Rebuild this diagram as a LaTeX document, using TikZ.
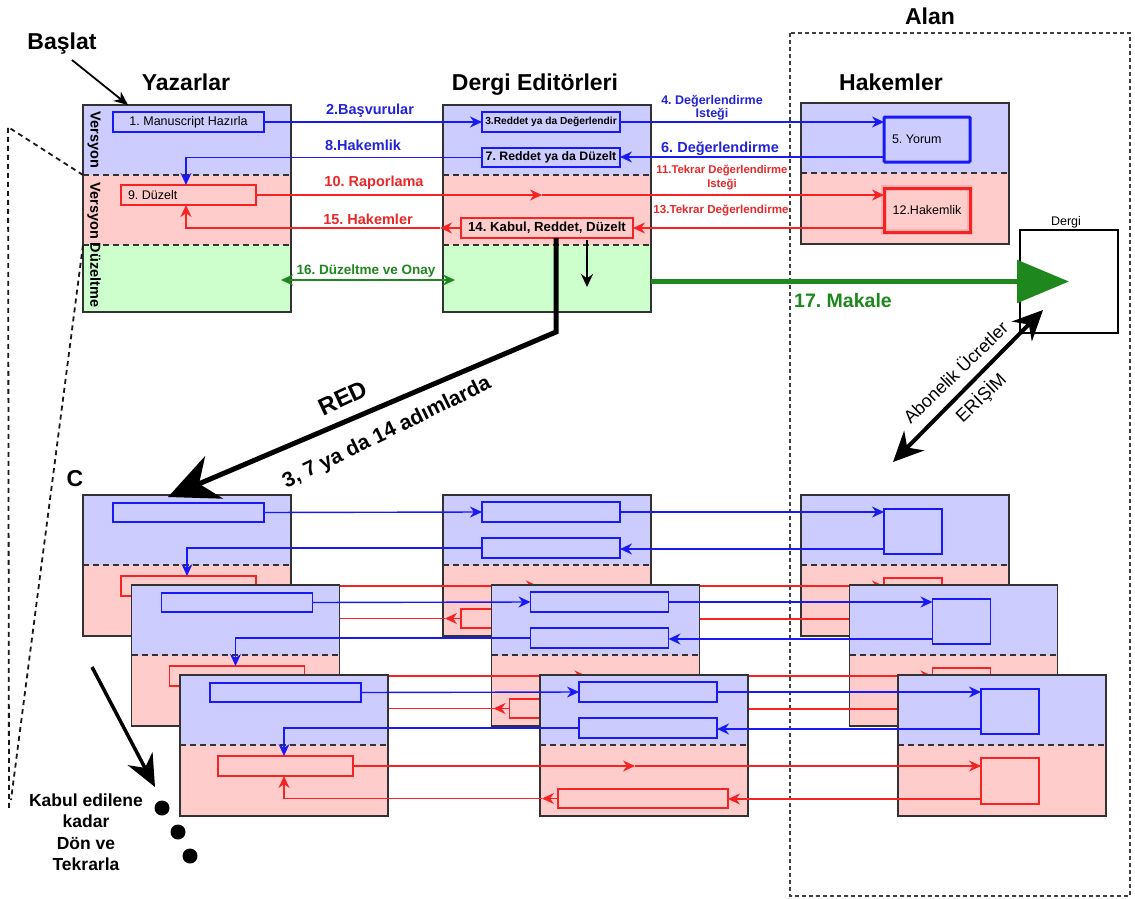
\documentclass[tikz,border=0pt]{standalone}
\usepackage{fontspec}
\setmainfont{Liberation Sans}
\usetikzlibrary{arrows.meta,calc}
\frenchspacing

\definecolor{cBlueFill}{RGB}{204,204,255}
\definecolor{cRedFill}{RGB}{255,204,204}
\definecolor{cGreenFill}{RGB}{204,255,204}
\definecolor{cBlue}{RGB}{25,25,245}
\definecolor{cRed}{RGB}{245,35,35}
\definecolor{cGreen}{RGB}{30,135,30}
\definecolor{cFrame}{RGB}{50,50,50}
\definecolor{cBlueText}{RGB}{35,35,215}
\definecolor{cRedText}{RGB}{235,40,40}

\newcommand{\fsz}[1]{\fontsize{#1}{#1}\selectfont}

% a stage card: blue upper half, red lower half, dashed separator, dark frame
\newcommand{\twocard}[3]{%
  \fill[cBlueFill] (#2,#3) rectangle ++(208,70);
  \fill[cRedFill] (#2,#3+70) rectangle ++(208,71);
  \draw[sepline] (#2,#3+70) -- ++(208,0);
  \node[cardframe, anchor=north west, minimum width=208pt, minimum height=141pt] (#1) at (#2,#3) {};
}

\begin{document}
\begin{tikzpicture}[x=1pt,y=-1pt,
  every node/.style={inner sep=0pt, outer sep=0pt},
  cardframe/.style={draw=cFrame, line width=1.7pt},
  sepline/.style={draw=black!80, line width=1.5pt, dash pattern=on 6pt off 4pt},
  bbox/.style={draw=cBlue, line width=1.7pt, anchor=north west},
  rbox/.style={draw=cRed, line width=1.7pt, anchor=north west},
  bl/.style={draw=cBlue, line width=1.4pt},
  rl/.style={draw=cRed, line width=1.4pt},
  ctip/.style={-{Stealth[length=12pt,width=11pt]}},
  title/.style={anchor=base, font=\bfseries\fsz{23}},
  lblb/.style={anchor=base, text=cBlueText, font=\bfseries\fsz{14.5}},
  lblr/.style={anchor=base, text=cRedText, font=\bfseries\fsz{14.5}},
  pdash/.style={draw=black!90, line width=1.8pt, dash pattern=on 5pt off 4pt},
  alandash/.style={draw=black!75, line width=1.6pt, dash pattern=on 4pt off 3pt},
]
\useasboundingbox (0,0) rectangle (1135,899);
\fill[white] (0,0) rectangle (1135,899);

% field boundary
\draw[alandash] (790,33) rectangle (1130,896);

% ---------- titles ----------
\node[title] (tBaslat) at (62,50) {Başlat};
\node[title] (tYaz) at (186,90) {Yazarlar};
\node[title] (tEd) at (535,91) {Dergi Editörleri};
\node[title] (tHak) at (891,90) {Hakemler};
\node[title] (tAlan) at (930,25) {Alan};
\node[title] (tC) at (75,486) {C};

% ---------- authors card ----------
\fill[cBlueFill] (83,105) rectangle ++(208,70);
\fill[cRedFill] (83,175) rectangle ++(208,70);
\fill[cGreenFill] (83,245) rectangle ++(208,67);
\draw[sepline] (83,175) -- ++(208,0);
\draw[sepline] (83,245) -- ++(208,0);
\node[cardframe, anchor=north west, minimum width=208pt, minimum height=207pt] (yaz) at (83,105) {};
\node[font=\bfseries\fsz{14.5}, rotate=-90] (v1) at (94,140) {Versyon};
\node[font=\bfseries\fsz{14.5}, rotate=-90] (v2) at (94,245) {Versyon Düzeltme};

% ---------- editors card ----------
\fill[cBlueFill] (443,105) rectangle ++(208,70);
\fill[cRedFill] (443,175) rectangle ++(208,70);
\fill[cGreenFill] (443,245) rectangle ++(208,67);
\draw[sepline] (443,175) -- ++(208,0);
\draw[sepline] (443,245) -- ++(208,0);
\node[cardframe, anchor=north west, minimum width=208pt, minimum height=207pt] (ed) at (443,105) {};

% ---------- referees card ----------
\twocard{hak}{801}{103}

% ---------- journal ----------
\node[draw=black, line width=1.5pt, anchor=north west, minimum width=98pt, minimum height=103pt] (dergi) at (1020,230) {};
\node[anchor=base, font=\fsz{12.5}] (tDergi) at (1066,225) {Dergi};

% ---------- inner boxes (top) ----------
\node[bbox, minimum width=151pt, minimum height=20pt, font=\fsz{12.5}] (m1) at (113,112) {1. Manuscript Hazırla};
\node[rbox, minimum width=135pt, minimum height=20pt] (d9) at (121,185) {};
\node[anchor=west, font=\fsz{12.5}] (d9t) at ($(d9.west)+(7,0)$) {9. Düzelt};
\node[bbox, minimum width=138pt, minimum height=20pt, font=\bfseries\fsz{10.2}] (e3) at (482,112) {3.Reddet ya da Değerlendir};
\node[bbox, minimum width=138pt, minimum height=19pt, font=\bfseries\fsz{12.3}] (e7) at (482,148) {7. Reddet ya da Düzelt};
\node[rbox, minimum width=172pt, minimum height=20pt, font=\bfseries\fsz{13.2}] (e14) at (461,218) {14. Kabul, Reddet, Düzelt};
\node[bbox, line width=3pt, rounded corners=1pt, minimum width=86pt, minimum height=45pt] (r5) at (884,117) {};
\node[anchor=west, font=\fsz{12.5}] (r5t) at ($(r5.west)+(8,0)$) {5. Yorum};
\draw[cRed!35, line width=6pt] (884,188) rectangle ++(86,44);
\node[rbox, line width=3pt, minimum width=86pt, minimum height=44pt, font=\fsz{12.5}] (r12) at (884,188) {12.Hakemlik};

% ---------- connectors (top) ----------
\draw[bl, ctip] (m1.east) -- (e3.west);
\draw[bl, ctip] (e3.east) -- (e3.east -| r5.west);
\coordinate (r5o) at ($(r5.south west)+(0,-5)$);
\draw[bl, ctip] (r5o) -- (r5o -| e7.east);
\coordinate (d9in) at ($(d9.north west)+(65,0)$);
\draw[bl, ctip] (e7.west) -| (d9in);

\coordinate (edRmid) at ($(d9.east -| ed.north west)+(99,0)$);
\draw[rl, ctip] (d9.east) -- (edRmid);
\draw[rl, ctip] (edRmid) -- (edRmid -| r12.west);
\coordinate (r12o) at ($(r12.south west)+(0,-4)$);
\draw[rl, ctip] (r12o) -- (r12o -| e14.east);
\coordinate (edRleft) at ($(e14.west -| ed.north west)+(-3,0)$);
\draw[rl, ctip] (e14.west) -- (edRleft);
\coordinate (d9out) at ($(d9.south west)+(65,0)$);
\draw[rl, ctip] (edRleft) -| (d9out);

% correction and approval
\coordinate (g1) at ($(yaz.south east)+(-10,-32)$);
\coordinate (g2) at ($(ed.south west)+(12,-32)$);
\draw[draw=cGreen, line width=1.4pt, {Stealth[length=12pt,width=11pt]}-{Stealth[length=12pt,width=11pt]}] (g1) -- (g2);

% editor downward arrow
\coordinate (edDown1) at ($(e14.south east)+(-46,2)$);
\coordinate (edDown2) at ($(ed.south west)+(144,-25)$);
\draw[line width=1.8pt, -{Stealth[length=13pt,width=12pt]}] (edDown1) -- (edDown2);

% article to journal
\draw[draw=cGreen, line width=5.5pt, -{Triangle[length=52pt,width=42pt]}] (dergi.center -| ed.east) -- (dergi.center);

% subscription / access
\coordinate (acc1) at (893,462);
\coordinate (acc2) at ($(dergi.south west)+(23,-23)$);
\draw[line width=4pt, {Stealth[length=30pt,width=28pt]}-{Stealth[length=30pt,width=28pt]}] (acc1) -- (acc2);

% start arrow
\coordinate (bs1) at ($(tBaslat.base)+(10,10)$);
\coordinate (bs2) at ($(yaz.north west)+(45,0)$);
\draw[line width=1.8pt, -{Stealth[length=14pt,width=12pt]}] (bs1) -- (bs2);

% perspective guide lines
\coordinate (ys1) at ($(yaz.north west)+(0,70)$);
\coordinate (ys2) at ($(yaz.north west)+(0,140)$);
\coordinate (pv1) at (8,127);
\coordinate (pv2) at (9,808);
\coordinate (pv3) at (11,800);
\draw[pdash] (ys1) -- (pv1) -- (pv2);
\draw[pdash] (ys2) -- (pv3);

% ---------- labels (top) ----------
\node[lblb] (l2) at (370,114) {2.Başvurular};
\node[lblb] (l8) at (363,150) {8.Hakemlik};
\node[lblr] (l10) at (374,186) {10. Raporlama};
\node[lblr] (l15) at (368,224) {15. Hakemler};
\node[anchor=base, text=cGreen, font=\bfseries\fsz{13.5}] (l16) at (366,274) {16. Düzeltme ve Onay};
\node[lblb, font=\bfseries\fsz{12.5}] (l4a) at (712,104) {4. Değerlendirme};
\node[lblb, font=\bfseries\fsz{12.5}] (l4b) at (712,117) {Isteği};
\node[lblb] (l6) at (720,152) {6. Değerlendirme};
\node[lblr, font=\bfseries\fsz{11.3}] (l11a) at (722,173) {11.Tekrar Değerlendirme};
\node[lblr, font=\bfseries\fsz{11.3}] (l11b) at (722,187) {Isteği};
\node[lblr, font=\bfseries\fsz{11.6}] (l13) at (721,213) {13.Tekrar Değerlendirme};
\node[anchor=base, text=cGreen, font=\bfseries\fsz{19.5}] (l17) at (843,307) {17. Makale};

\node[font=\fsz{18}, rotate=44] (tAbo) at (955,372) {Abonelik Ücretler};
\node[font=\fsz{18}, rotate=44] (tEri) at (981,398) {ERİŞİM};

% ---------- repeated rounds ----------
\foreach \k in {0,1,2} {
  \pgfmathsetmacro{\xl}{83+48.5*\k}
  \pgfmathsetmacro{\xm}{443+48.5*\k}
  \pgfmathsetmacro{\xr}{801+48.5*\k}
  \pgfmathsetmacro{\yy}{495+90*\k}
  \twocard{L\k}{\xl}{\yy}
  \twocard{M\k}{\xm}{\yy}
  \twocard{R\k}{\xr}{\yy}
  \node[bbox, minimum width=151pt, minimum height=19pt] (La\k) at (\xl+30,\yy+8) {};
  \node[rbox, minimum width=135pt, minimum height=20pt] (Lb\k) at (\xl+38,\yy+81) {};
  \node[bbox, minimum width=138pt, minimum height=20pt] (Ma\k) at (\xm+39,\yy+7) {};
  \node[bbox, minimum width=138pt, minimum height=20pt] (Mb\k) at (\xm+39,\yy+43) {};
  \node[rbox, minimum width=170pt, minimum height=19pt] (Mc\k) at (\xm+18,\yy+114) {};
  \node[bbox, minimum width=58pt, minimum height=45pt] (Ra\k) at (\xr+83,\yy+14) {};
  \node[rbox, minimum width=58pt, minimum height=46pt] (Rb\k) at (\xr+83,\yy+83) {};
  % blue exchanges
  \draw[bl, ctip] (La\k.east) -- (Ma\k.west);
  \draw[bl, ctip] (Ma\k.east) -- (Ma\k.east -| Ra\k.west);
  \coordinate (ro\k) at ($(Ra\k.south west)+(0,-5)$);
  \draw[bl, ctip] (ro\k) -- (ro\k -| Mb\k.east);
  \coordinate (li\k) at ($(Lb\k.north west)+(66,0)$);
  \draw[bl, ctip] (Mb\k.west) -| (li\k);
  % red exchanges
  \coordinate (rm\k) at ($(Lb\k.east -| M\k.north west)+(95,0)$);
  \draw[rl, ctip] (Lb\k.east) -- (rm\k);
  \draw[rl, ctip] (rm\k) -- (rm\k -| Rb\k.west);
  \coordinate (rq\k) at ($(Rb\k.south west)+(0,-5)$);
  \draw[rl, ctip] (rq\k) -- (rq\k -| Mc\k.east);
  \coordinate (ml\k) at ($(Mc\k.west -| M\k.north west)+(2,0)$);
  \draw[rl, ctip] (Mc\k.west) -- (ml\k);
  \coordinate (lo\k) at ($(Lb\k.south west)+(66,0)$);
  \draw[rl, ctip] (ml\k) -| (lo\k);
}

% ---------- rejection path ----------
\coordinate (rj1) at ($(e14.south west)+(95,0)$);
\coordinate (rj2) at (556,332);
\coordinate (rj3) at ($(L0.north west)+(85,2)$);
\draw[line width=5pt, line join=miter, -{Stealth[length=50pt,width=46pt]}] (rj1) -- (rj2) -- (rj3);
\node[font=\bfseries\fsz{24}, rotate=25] (tRed) at (343,398) {RED};
\node[font=\bfseries\fsz{21}, rotate=26] (tSteps) at (387,433) {3, 7 ya da 14 adımlarda};

% ---------- repeat until accepted ----------
\coordinate (rp1) at (92,667);
\coordinate (rp2) at (155,787);
\draw[line width=3.5pt, -{Stealth[length=32pt,width=28pt]}] (rp1) -- (rp2);
\fill (162,808) circle (7.5);
\fill (178,832) circle (7.5);
\fill (190,856) circle (7.5);
\node[anchor=north, align=center, font=\bfseries\fontsize{17.5}{21.3}\selectfont] (tKabul) at (86,794) {Kabul edilene\\kadar\\Dön ve\\Tekrarla};

\end{tikzpicture}
\end{document}
